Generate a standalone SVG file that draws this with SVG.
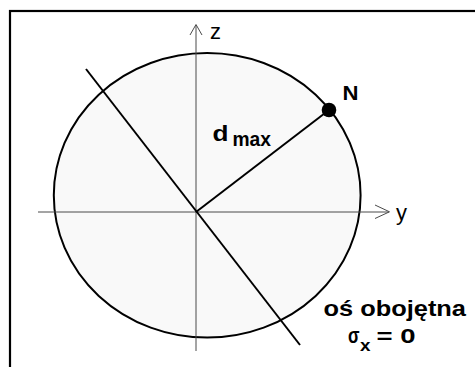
<svg xmlns="http://www.w3.org/2000/svg" width="475" height="367" viewBox="0 0 475 367">
<defs>
<style>
.axis{stroke:#4a4a4a;stroke-width:1;fill:none}
.ln{stroke:#000;stroke-width:2;fill:none}
.t{font-family:"Liberation Sans",Arial,sans-serif;fill:#000}
.b{font-weight:bold}
</style>
</defs>
<rect x="10" y="11" width="480" height="370" fill="#fff" stroke="#000" stroke-width="2.2"/>
<g id="section">
<ellipse cx="207.2" cy="195.3" rx="153.4" ry="142.3" fill="#f9f9f9" stroke="#000" stroke-width="2"/>
</g>
<g id="connectors">
<line class="axis" x1="38" y1="212" x2="389" y2="212"/>
<polyline class="axis" points="375,205 389.5,211.8 375,218.5"/>
<line class="axis" x1="196" y1="351" x2="196" y2="25"/>
<polyline class="axis" points="190,35 196,24.5 202,35"/>
<line class="ln" x1="86" y1="69" x2="300" y2="345"/>
<line class="ln" x1="196" y1="212" x2="329" y2="110"/>
</g>
<g id="N">
<circle cx="329" cy="110" r="7.3" fill="#000"/>
<text class="t b" x="342.5" y="99.5" font-size="20" textLength="16" lengthAdjust="spacingAndGlyphs">N</text>
</g>
<g id="labels">
<text class="t" x="210" y="38.5" font-size="22">z</text>
<text class="t" x="396" y="220" font-size="22">y</text>
<text class="t b" x="212.5" y="141" font-size="22"><tspan textLength="16" lengthAdjust="spacingAndGlyphs">d</tspan><tspan x="232.5" y="146" font-size="20" textLength="38.5" lengthAdjust="spacingAndGlyphs">max</tspan></text>
<text class="t b" x="323.5" y="315.5" font-size="22" textLength="142.5" lengthAdjust="spacingAndGlyphs">oś obojętna</text>
<text class="t b" x="348" y="342.5" font-size="22"><tspan textLength="11.5" lengthAdjust="spacingAndGlyphs">σ</tspan><tspan x="360" y="351" font-size="17" textLength="10.5" lengthAdjust="spacingAndGlyphs">x</tspan><tspan x="376.5" y="342.5" font-size="21" textLength="39" lengthAdjust="spacingAndGlyphs">= 0</tspan></text>
</g>
</svg>
